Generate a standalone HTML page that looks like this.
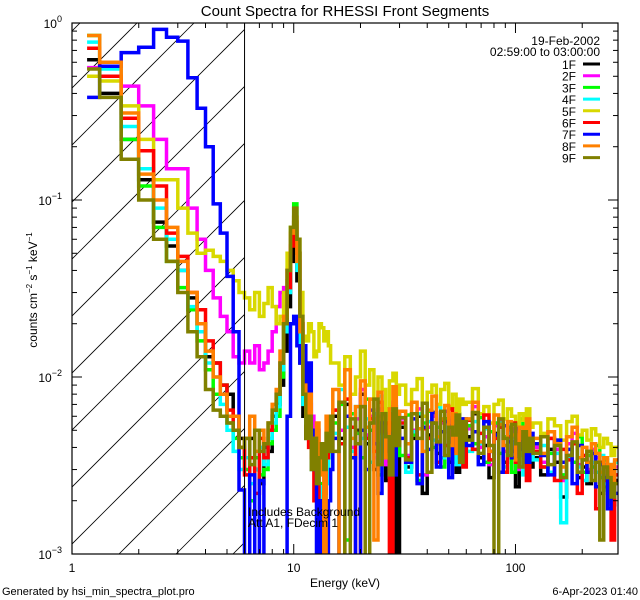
<!DOCTYPE html>
<html><head><meta charset="utf-8"><style>
html,body{margin:0;padding:0;background:#fff;}
svg{display:block;font-family:"Liberation Sans",sans-serif;}
</style></head><body>
<svg id="chart" width="640" height="600" viewBox="0 0 640 600" xmlns="http://www.w3.org/2000/svg">
<defs><clipPath id="plotClip"><rect x="72" y="23" width="546" height="531"/></clipPath>
<clipPath id="hatchClip"><rect x="72" y="23" width="173" height="531"/></clipPath></defs>
<rect width="640" height="600" fill="#fff"/>
<text x="345" y="16" font-size="15" text-anchor="middle">Count Spectra for RHESSI Front Segments</text>
<g id="hatch" clip-path="url(#hatchClip)"></g>
<g id="series" clip-path="url(#plotClip)"></g>
<g id="axes"></g>
<text x="345" y="587" font-size="12" text-anchor="middle">Energy (keV)</text>
<text transform="translate(37,290) rotate(-90)" font-size="12" text-anchor="middle">counts cm<tspan font-size="8" dy="-5">−2</tspan><tspan dy="5"> s</tspan><tspan font-size="8" dy="-5">−1</tspan><tspan dy="5"> keV</tspan><tspan font-size="8" dy="-5">−1</tspan></text>
<text x="2" y="595" font-size="11">Generated by hsi_min_spectra_plot.pro</text>
<text x="638" y="595" font-size="11" text-anchor="end">6-Apr-2023 01:40</text>
<text x="248" y="516" font-size="12">Includes Background</text>
<text x="248" y="527" font-size="12">Att A1, FDecim 1</text>
<text x="600" y="45" font-size="12" text-anchor="end">19-Feb-2002</text>
<text x="600" y="56" font-size="12" text-anchor="end">02:59:00 to 03:00:00</text>
<g id="legend"></g>
</svg>
<script>
const seriesNames = ["1F","2F","3F","4F","5F","6F","7F","8F","9F"];
const seriesColors = ["#000000","#ff00ff","#00ff00","#00ffff","#d8d800","#ff0000","#0000ff","#ff8000","#808000"];
const xTicks = [1,10,100];
const xTickLabels = ["1","10","100"];
const yTicks = [0.001,0.01,0.1,1];
const yTickExp = ["−3","−2","−1","0"];
const attenEdge = 6.0;
// energy bin segments: [start, end, width]
const binSegments = [[1.3333,6,0.33333],[6,15,0.33333],[15,30,1],[30,60,2],[60,120,4],[120,290,10]];
const firstEdge = 1.17;

const s1F = [0.62,0.40,0.22,0.13,0.075,0.055,0.040,0.028,0.020,0.013,0.012,0.009,0.008,0.006,0.0045,
0.0035,0.0045,0.003,0.0025,0.004,0.0038,0.006,0.007,0.009,0.014,0.025,0.045,0.055,0.035,0.012,0.006,0.0045,0.005,0.004,0.003,0.0025,0.0018,0.002,0.0015,0.003,0.005,0.004,
0.006,0.0045,0.007,0.0035,0.005,0.008,0.0042,0.0055,0.003,0.006,0.0048,0.0026,0.005,0.0068,0.0009,
0.0052,0.0031,0.0045,0.006,0.0022,0.0047,0.0055,0.0037,0.0049,0.0058,0.0033,0.0051,0.0029,0.0044,0.0039,
0.0046,0.0062,0.0035,0.0041,0.0027,0.0048,0.0052,0.0033,0.0044,0.0038,0.0024,0.0041,0.0036,0.0047,0.0031,
0.0035,0.0028,0.0039,0.0033,0.0021,0.0036,0.0042,0.0027,0.0031,0.0025,0.0033,0.0029,0.0022,0.0027,0.0024,0.0019,0.0026];
const s2F = [0.56,0.56,0.44,0.34,0.22,0.15,0.15,0.09,0.06,0.04,0.028,0.022,0.018,0.013,0.012,
0.014,0.012,0.015,0.011,0.012,0.014,0.018,0.025,0.03,0.032,0.04,0.06,0.07,0.045,0.02,0.012,0.009,0.007,0.006,0.0045,0.005,0.004,0.0035,0.003,0.004,0.0055,0.005,
0.0065,0.005,0.0075,0.004,0.0058,0.0085,0.0047,0.006,0.0035,0.0066,0.0052,0.0032,0.0055,0.0072,0.0044,
0.0058,0.0036,0.005,0.0066,0.0028,0.0052,0.006,0.0042,0.0055,0.0064,0.0038,0.0057,0.0034,0.0049,0.0045,
0.0051,0.0068,0.004,0.0046,0.0032,0.0053,0.0057,0.0038,0.005,0.0043,0.003,0.0047,0.0041,0.0052,0.0036,
0.004,0.0033,0.0045,0.0039,0.0026,0.0042,0.0048,0.0032,0.0036,0.003,0.0039,0.0035,0.0027,0.0032,0.0029,0.0024,0.0031];
const s3F = [0.85,0.5,0.22,0.12,0.07,0.045,0.032,0.024,0.016,0.011,0.008,0.009,0.0055,0.0045,0.0035,
0.003,0.002,0.0035,0.0028,0.003,0.0042,0.005,0.006,0.01,0.02,0.035,0.07,0.095,0.05,0.018,0.008,0.006,0.005,0.004,0.003,0.0022,0.0025,0.0018,0.0016,0.003,0.004,0.005,
0.0055,0.007,0.0012,0.0062,0.0048,0.0035,0.0075,0.005,0.0062,0.0028,0.0052,0.0066,0.0041,0.0058,0.0049,
0.0036,0.0061,0.0047,0.0026,0.0055,0.0064,0.004,0.0052,0.0031,0.0058,0.0045,0.0039,0.0062,0.0048,0.0035,
0.0053,0.0042,0.0059,0.0033,0.0049,0.0055,0.0037,0.0046,0.0052,0.0029,0.0044,0.0058,0.0039,0.0043,0.0036,
0.0042,0.0031,0.0037,0.0044,0.0028,0.0039,0.0033,0.0046,0.0029,0.0036,0.0031,0.0041,0.0027,0.0034,0.0023,0.0032,0.0028];
const s4F = [0.78,0.55,0.26,0.15,0.09,0.06,0.04,0.025,0.018,0.012,0.01,0.007,0.005,0.0038,0.003,
0.0035,0.0025,0.003,0.004,0.0032,0.0045,0.0055,0.0068,0.011,0.018,0.03,0.06,0.075,0.04,0.015,0.007,0.0055,0.0045,0.003,0.0035,0.0028,0.002,0.0024,0.0016,0.0025,0.0035,0.0045,
0.0048,0.0085,0.0052,0.0038,0.0068,0.0045,0.0058,0.0033,0.0062,0.0078,0.0041,0.0052,0.0036,0.0065,0.0047,
0.0055,0.0029,0.0049,0.0062,0.0038,0.0056,0.0044,0.0068,0.0035,0.0052,0.0041,0.0059,0.0032,0.0047,0.0053,
0.0038,0.0056,0.0042,0.0051,0.0034,0.0046,0.0055,0.0031,0.0048,0.0042,0.0036,0.0052,0.0028,0.0044,0.0039,
0.0034,0.0041,0.0029,0.0037,0.0015,0.0035,0.0042,0.0031,0.0026,0.0038,0.0033,0.0029,0.0036,0.0025,0.003,0.0021,0.0033];
const s5F = [0.5,0.47,0.34,0.22,0.13,0.13,0.09,0.065,0.05,0.052,0.048,0.045,0.04,0.035,0.03,
0.028,0.024,0.03,0.022,0.026,0.032,0.025,0.02,0.022,0.03,0.05,0.07,0.08,0.06,0.03,0.017,0.016,0.02,0.018,0.013,0.014,0.02,0.019,0.016,0.018,0.015,0.012,
0.012,0.009,0.013,0.008,0.01,0.014,0.009,0.011,0.0075,0.01,0.0085,0.0065,0.0095,0.0105,0.008,
0.009,0.007,0.0085,0.0098,0.006,0.0082,0.009,0.007,0.0085,0.0092,0.0068,0.008,0.006,0.0075,0.007,
0.0072,0.0086,0.0062,0.0068,0.0055,0.007,0.0074,0.0058,0.0066,0.006,0.0048,0.0062,0.0057,0.0066,0.0052,
0.0055,0.0048,0.0058,0.0053,0.0044,0.0056,0.006,0.0047,0.005,0.0044,0.0051,0.0047,0.004,0.0045,0.0042,0.0036,0.004];
const s6F = [0.72,0.5,0.29,0.19,0.12,0.065,0.048,0.030,0.024,0.016,0.012,0.009,0.0065,0.005,0.004,
0.0028,0.0035,0.0022,0.0045,0.0035,0.005,0.0065,0.008,0.012,0.02,0.032,0.055,0.075,0.05,0.02,0.01,0.006,0.004,0.0035,0.002,0.0028,0.0015,0.0008,0.0022,0.0035,0.0045,0.0038,
0.0065,0.0042,0.0075,0.0052,0.0008,0.0068,0.0045,0.0058,0.0038,0.0072,0.0049,0.0055,0.0008,0.0062,0.0043,
0.0055,0.0035,0.0062,0.0028,0.0051,0.0045,0.0063,0.0033,0.0057,0.0041,0.0066,0.0038,0.0052,0.0046,0.0031,
0.0057,0.0039,0.0048,0.0061,0.0034,0.0045,0.0052,0.0029,0.0046,0.0055,0.0033,0.0041,0.0049,0.0026,0.0044,
0.0038,0.0031,0.0045,0.0026,0.0039,0.0034,0.0042,0.0022,0.0036,0.0029,0.0037,0.0018,0.0033,0.0026,0.0031,0.0012,0.0028];
const s7F = [0.38,0.57,0.68,0.73,0.92,0.83,0.79,0.49,0.33,0.20,0.095,0.065,0.037,0.018,0.0023,
0.0008,0.0028,0.0008,0.0026,0.0008,0.0008,0.0008,0.0008,0.0008,0.0008,0.006,0.02,0.022,0.015,0.012,0.015,0.008,0.012,0.005,0.003,0.0008,0.002,0.0008,0.0015,0.0008,0.002,0.003,
0.0045,0.0008,0.006,0.0035,0.0008,0.005,0.003,0.0065,0.0042,0.0022,0.0055,0.0038,0.0048,0.0028,0.0062,
0.0045,0.0033,0.0058,0.0025,0.0052,0.0039,0.0063,0.0031,0.0049,0.0056,0.0027,0.0053,0.0042,0.0035,0.0058,
0.0041,0.0049,0.0032,0.0056,0.0038,0.0047,0.0029,0.0053,0.0043,0.0035,0.0051,0.0039,0.0046,0.0033,0.0048,
0.0042,0.0036,0.0028,0.0044,0.0033,0.0039,0.0025,0.0041,0.0034,0.0029,0.0037,0.0024,0.0032,0.0027,0.0018,0.0029,0.0022];
const s8F = [0.85,0.6,0.31,0.14,0.10,0.07,0.045,0.03,0.02,0.014,0.01,0.008,0.006,0.006,0.004,
0.0045,0.006,0.0038,0.005,0.0042,0.0055,0.007,0.0085,0.014,0.022,0.04,0.065,0.08,0.045,0.018,0.009,0.006,0.008,0.0045,0.0035,0.0055,0.0028,0.0042,0.0008,0.006,0.0048,0.0055,
0.0085,0.0008,0.011,0.0045,0.0068,0.0095,0.0052,0.0075,0.0012,0.0082,0.0058,0.0035,0.0066,0.0088,0.0049,
0.0064,0.0042,0.0072,0.0051,0.0038,0.0065,0.0078,0.0046,0.0058,0.0069,0.0041,0.0062,0.0037,0.0055,0.0048,
0.0058,0.0072,0.0043,0.0052,0.0038,0.0061,0.0054,0.0041,0.0056,0.0047,0.0034,0.0052,0.0045,0.0058,0.0039,
0.0045,0.0037,0.0049,0.0042,0.0031,0.0046,0.0052,0.0035,0.004,0.0033,0.0042,0.0037,0.0029,0.0035,0.0032,0.0026,0.0034];
const s9F = [0.55,0.38,0.17,0.10,0.06,0.045,0.03,0.018,0.013,0.0085,0.0065,0.006,0.0055,0.005,0.004,
0.0045,0.0032,0.005,0.0038,0.0042,0.0055,0.0065,0.008,0.012,0.02,0.04,0.07,0.09,0.06,0.022,0.008,0.0045,0.006,0.003,0.0045,0.0025,0.0035,0.0042,0.003,0.0048,0.0038,0.006,
0.0038,0.0072,0.0008,0.0058,0.0042,0.0068,0.0008,0.0055,0.0075,0.0032,0.0062,0.0046,0.0028,0.0066,0.0041,
0.0059,0.0034,0.0062,0.0045,0.0071,0.0029,0.0055,0.0043,0.0064,0.0036,0.0052,0.0047,0.0061,0.0033,0.0056,
0.0044,0.0063,0.0037,0.0052,0.0041,0.0008,0.0058,0.0045,0.0036,0.0054,0.0042,0.0031,0.0049,0.0038,0.0045,
0.0037,0.0046,0.0032,0.0041,0.0027,0.0036,0.0043,0.0029,0.0034,0.0038,0.0026,0.0033,0.0012,0.0031,0.0027,0.0021,0.0025];
const seriesValues = [s1F,s2F,s3F,s4F,s5F,s6F,s7F,s8F,s9F];

const X0=72, X1=618, Y0=23, Y1=554;
const xMin=1, xMax=290, yMin=0.001, yMax=1;
function xScale(e){return X0+(X1-X0)*(Math.log10(e)-Math.log10(xMin))/(Math.log10(xMax)-Math.log10(xMin));}
function yScale(v){return Y1-(Y1-Y0)*(Math.log10(Math.max(v,1e-5))-Math.log10(yMin))/(Math.log10(yMax)-Math.log10(yMin));}
const NS="http://www.w3.org/2000/svg";
function mk(tag,attrs,parent){const el=document.createElementNS(NS,tag);for(const k in attrs)el.setAttribute(k,attrs[k]);parent.appendChild(el);return el;}

// energy edges
const edges=[firstEdge, binSegments[0][0]];
binSegments.forEach(function(s){for(let e=s[0]+s[2];e<=s[1]+1e-6;e+=s[2])edges.push(e);});

// hatch
const hatch=document.getElementById('hatch');
for(let k=-2;k<16;k++){
  const xt=80+57*k;
  const ln=mk('line',{x1:xt,y1:Y0,x2:xt-531,y2:Y1,stroke:'#000','stroke-width':0.8},hatch);
  
  
}
const att=mk('line',{x1:xScale(attenEdge),y1:Y0,x2:xScale(attenEdge),y2:Y1,stroke:'#000','stroke-width':1},hatch.parentNode);



// series
const sg=document.getElementById('series');
seriesValues.forEach(function(vals,si){
  const n=Math.min(vals.length,edges.length-1);
  let d='';
  for(let i=0;i<n;i++){
    const xa=xScale(edges[i]).toFixed(1), xb=xScale(edges[i+1]).toFixed(1), y=yScale(vals[i]).toFixed(1);
    d+=(i===0?'M':'L')+xa+','+y+'L'+xb+','+y;
  }
  const p=mk('path',{d:d,fill:'none',stroke:seriesColors[si],'stroke-width':3.5,'stroke-linejoin':'miter'},sg);
  
  
});

// axes
const ax=document.getElementById('axes');
const frame=mk('rect',{x:X0,y:Y0,width:X1-X0,height:Y1-Y0,fill:'none',stroke:'#000','stroke-width':1.2},ax);


for(let dec=1;dec<=100;dec*=10){
  for(let m=1;m<10;m++){
    const e=dec*m; if(e>xMax) break;
    const x=xScale(e), L=(m===1)?10:5;
    mk('line',{x1:x,y1:Y1,x2:x,y2:Y1-L,stroke:'#000','stroke-width':1},ax);
    mk('line',{x1:x,y1:Y0,x2:x,y2:Y0+L,stroke:'#000','stroke-width':1},ax);
  }
}
xTicks.forEach(function(t,i){
  const tx=mk('text',{x:xScale(t),y:572,'font-size':12,'text-anchor':'middle'},ax);
  tx.textContent=xTickLabels[i];
  
  
});
for(let dec=0.001;dec<0.99;dec*=10){
  for(let m=1;m<10;m++){
    const v=dec*m, y=yScale(v), L=(m===1)?10:5;
    mk('line',{x1:X0,y1:y,x2:X0+L,y2:y,stroke:'#000','stroke-width':1},ax);
    mk('line',{x1:X1,y1:y,x2:X1-L,y2:y,stroke:'#000','stroke-width':1},ax);
  }
}
yTicks.forEach(function(t,i){
  const tx=mk('text',{x:62,y:yScale(t)+5,'font-size':12,'text-anchor':'end'},ax);
  
  
  tx.textContent='10';
  const sup=mk('tspan',{'font-size':9,dy:-6},tx);
  sup.textContent=yTickExp[i];
});

// legend
const lg=document.getElementById('legend');
seriesNames.forEach(function(nm,i){
  const y=64+11.7*i;
  const t=mk('text',{x:576,y:y+5,'font-size':12,'text-anchor':'end'},lg);
  t.textContent=nm;
  
  
  const l=mk('line',{x1:583,y1:y,x2:600,y2:y,stroke:seriesColors[i],'stroke-width':3},lg);
  
  
});
</script>
</body></html>
